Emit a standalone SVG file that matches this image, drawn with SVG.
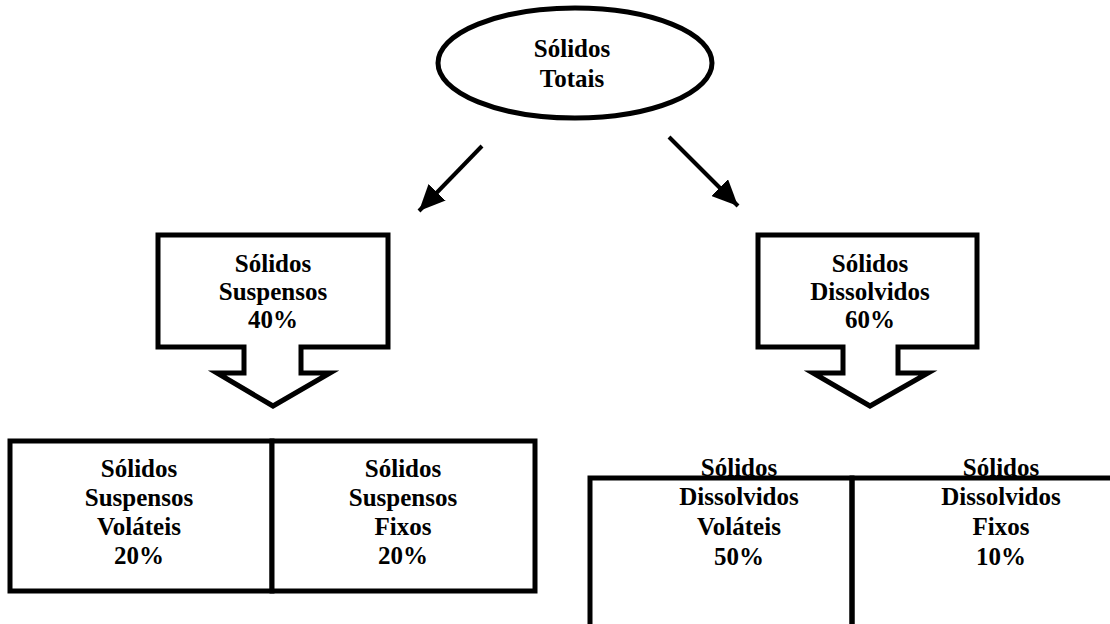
<svg xmlns="http://www.w3.org/2000/svg" width="1110" height="624" viewBox="0 0 1110 624">
<defs>
<style>
.t{font-family:"Liberation Serif","Times New Roman",serif;font-weight:bold;font-size:25px;fill:#000;text-anchor:middle}
.s{fill:#fff;stroke:#000;stroke-width:5;stroke-linejoin:miter}
.c{stroke:#000;stroke-width:4;fill:none}
</style>
<marker id="ah" markerUnits="userSpaceOnUse" markerWidth="26" markerHeight="24" refX="24" refY="11" orient="auto" viewBox="0 0 24 22">
<path d="M0,0 L24,11 L0,22 Z" fill="#000"/>
</marker>
</defs>
<rect width="1110" height="624" fill="#fff"/>
<g id="connectors">
<line class="c" x1="482" y1="146" x2="419" y2="211" marker-end="url(#ah)"/>
<line class="c" x1="669" y1="137" x2="738" y2="206" marker-end="url(#ah)"/>
</g>
<g id="totais">
<ellipse class="s" cx="575" cy="63" rx="137" ry="55" stroke-width="4"/>
<text class="t" x="572" y="57">Sólidos</text>
<text class="t" x="572" y="87">Totais</text>
</g>
<g id="suspensos">
<path class="s" d="M158,235 H388 V347 H301 V373 H330 L273,406 L217,373 H244 V347 H158 Z"/>
<text class="t" x="273" y="272">Sólidos</text>
<text class="t" x="273" y="300">Suspensos</text>
<text class="t" x="273" y="328">40%</text>
</g>
<g id="dissolvidos">
<path class="s" d="M758,235 H977 V347 H898 V373 H928 L870,406 L813,373 H843 V347 H758 Z"/>
<text class="t" x="870" y="272">Sólidos</text>
<text class="t" x="870" y="300">Dissolvidos</text>
<text class="t" x="870" y="328">60%</text>
</g>
<g id="suspensos-volateis">
<rect class="s" x="10" y="441" width="262" height="150"/>
<text class="t" x="139" y="477">Sólidos</text>
<text class="t" x="139" y="506">Suspensos</text>
<text class="t" x="139" y="535">Voláteis</text>
<text class="t" x="139" y="564">20%</text>
</g>
<g id="suspensos-fixos">
<rect class="s" x="272" y="441" width="263" height="150"/>
<text class="t" x="403" y="477">Sólidos</text>
<text class="t" x="403" y="506">Suspensos</text>
<text class="t" x="403" y="535">Fixos</text>
<text class="t" x="403" y="564">20%</text>
</g>
<g id="dissolvidos-volateis">
<text class="t" x="739" y="476">Sólidos</text>
<text class="t" x="739" y="505">Dissolvidos</text>
<text class="t" x="739" y="535">Voláteis</text>
<text class="t" x="739" y="565">50%</text>
<path d="M590,630 V478 H852 V630" fill="none" stroke="#000" stroke-width="5"/>
</g>
<g id="dissolvidos-fixos">
<text class="t" x="1001" y="476">Sólidos</text>
<text class="t" x="1001" y="505">Dissolvidos</text>
<text class="t" x="1001" y="535">Fixos</text>
<text class="t" x="1001" y="565">10%</text>
<path d="M852,630 V478 H1115" fill="none" stroke="#000" stroke-width="5"/>
</g>
</svg>
